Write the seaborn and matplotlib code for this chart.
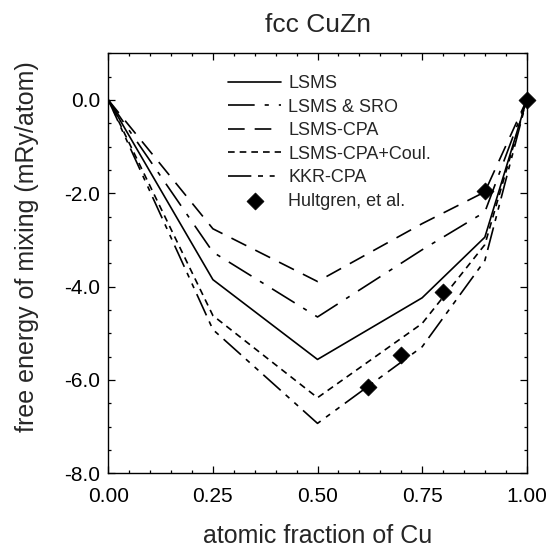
import matplotlib
matplotlib.use("Agg")
import matplotlib.pyplot as plt
from matplotlib.ticker import MultipleLocator, FormatStrFormatter
import seaborn as sns
import pandas as pd

# Free energy of mixing for fcc CuZn (mRy/atom) vs atomic fraction of Cu
x_lsms = [0.0, 0.25, 0.5, 0.75, 0.9, 1.0]
lsms = [0.0, -3.85, -5.56, -4.24, -2.94, 0.0]

x_sro = [0.0, 0.25, 0.5, 0.75, 0.9, 1.0]
lsms_sro = [0.0, -3.26, -4.65, -3.21, -2.40, 0.0]

x_cpa = [0.0, 0.25, 0.5, 0.75, 0.9, 1.0]
lsms_cpa = [0.0, -2.76, -3.89, -2.65, -1.97, 0.0]

x_coul = [0.0, 0.25, 0.5, 0.75, 0.9, 1.0]
lsms_cpa_coul = [0.0, -4.62, -6.38, -4.79, -3.10, 0.0]

x_kkr = [0.0, 0.25, 0.5, 0.75, 0.9, 1.0]
kkr_cpa = [0.0, -4.92, -6.93, -5.29, -3.44, 0.0]

x_exp = [0.62, 0.70, 0.80, 0.90, 1.0]
hultgren = [-6.15, -5.47, -4.11, -1.95, 0.0]

series = [
    ("LSMS", x_lsms, lsms, "-"),
    ("LSMS & SRO", x_sro, lsms_sro, (0, (16, 6, 2.5, 6))),
    ("LSMS-CPA", x_cpa, lsms_cpa, (0, (10, 6))),
    ("LSMS-CPA+Coul.", x_coul, lsms_cpa_coul, (0, (4, 3))),
    ("KKR-CPA", x_kkr, kkr_cpa, (0, (14, 4, 3, 4, 3, 4))),
]

sns.set_style("ticks")
plt.rcParams["font.family"] = ["Liberation Sans", "DejaVu Sans"]

fig = plt.figure(figsize=(5.56, 5.59), dpi=100)
ax = fig.add_axes([0.1948, 0.1533, 0.7525, 0.7513])

for name, xs, ys, ls in series:
    df = pd.DataFrame({"x": xs, "y": ys})
    sns.lineplot(data=df, x="x", y="y", ax=ax, color="black", linewidth=1.2,
                 linestyle=ls, label=name, sort=False, estimator=None)

exp_df = pd.DataFrame({"x": x_exp, "y": hultgren})
sns.scatterplot(data=exp_df, x="x", y="y", ax=ax, marker="D", s=75,
                color="black", edgecolor="black", linewidth=0.5,
                label="Hultgren, et al.", zorder=5, clip_on=False)

ax.set_xlim(0.0, 1.0)
ax.set_ylim(-8.0, 1.0)
ax.xaxis.set_major_locator(MultipleLocator(0.25))
ax.xaxis.set_minor_locator(MultipleLocator(0.05))
ax.yaxis.set_major_locator(MultipleLocator(2.0))
ax.yaxis.set_minor_locator(MultipleLocator(0.5))
ax.xaxis.set_major_formatter(FormatStrFormatter("%.2f"))
ax.yaxis.set_major_formatter(FormatStrFormatter("%.1f"))

ax.tick_params(which="both", direction="in", top=True, right=True,
               width=0.9, colors="black")
ax.tick_params(which="major", length=5, labelsize=15)
ax.tick_params(axis="x", which="major", pad=10)
ax.tick_params(axis="y", which="major", pad=6)
ax.tick_params(which="minor", length=2.5)
for sp in ax.spines.values():
    sp.set_linewidth(1.0)
    sp.set_color("black")

ax.set_title("fcc CuZn", fontsize=19, pad=15)
ax.set_xlabel("atomic fraction of Cu", fontsize=18)
ax.set_ylabel("free energy of mixing (mRy/atom)", fontsize=18)
ax.xaxis.set_label_coords(0.5, -0.12)
ax.yaxis.set_label_coords(-0.165, 0.54)

ax.legend(loc="upper left", bbox_to_anchor=(0.27, 0.965), frameon=False,
          fontsize=13, handlelength=2.9, handletextpad=0.4,
          labelspacing=0.36, borderaxespad=0.0, scatterpoints=1)

fig.savefig("out.png", dpi=100)
